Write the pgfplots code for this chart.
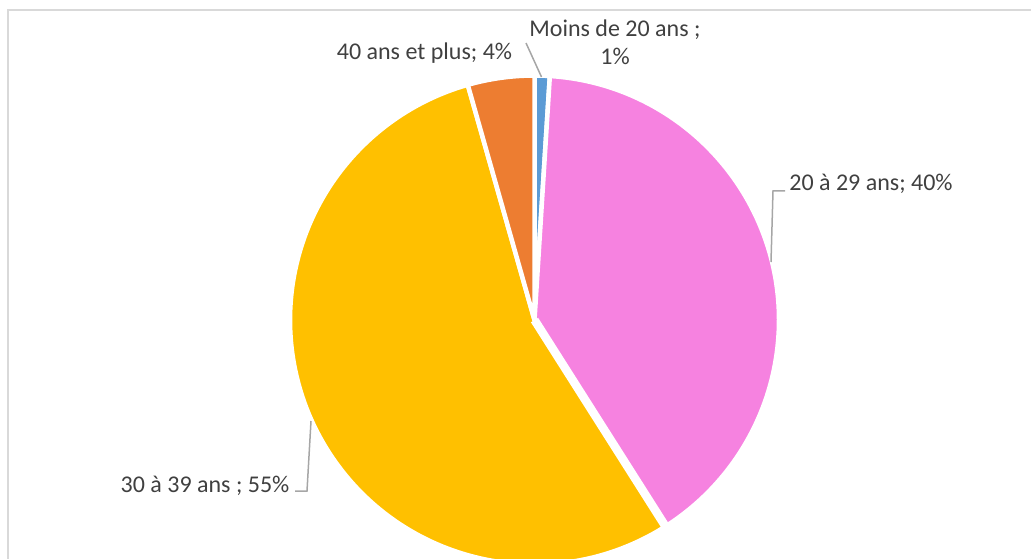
\documentclass[border=0pt]{standalone}
\usepackage{pgfplots}
\pgfplotsset{compat=1.18}
\usepackage{fontspec}
\setmainfont{Carlito}
\definecolor{cBlue}{HTML}{5B9BD5}
\definecolor{cPink}{HTML}{F682E0}
\definecolor{cGold}{HTML}{FFC000}
\definecolor{cOrange}{HTML}{ED7D31}
\definecolor{txtGray}{HTML}{404040}
\definecolor{leadGray}{HTML}{A6A6A6}
\definecolor{frameGray}{HTML}{D9D9D9}
% slice values (percent), clockwise from 12 o'clock:
% Moins de 20 ans 1.0 ; 20 a 29 ans 40.0 ; 30 a 39 ans 54.6 ; 40 ans et plus 4.4
\begin{document}
\begin{tikzpicture}
\begin{axis}[x=1pt,y=1pt,xmin=0,xmax=1031,ymin=0,ymax=558,hide axis,clip=true,
  scale only axis]
% frame
\draw[frameGray, line width=2pt] (axis cs:8,-20) -- (axis cs:8,548) -- (axis cs:1060,548);
% slices
\filldraw[fill=cBlue, draw=white, line width=4.5pt, line join=round]
  (axis cs:534.5,238) -- ++(90:244.5pt) arc[start angle=90, end angle={90-3.6*1.0}, radius=244.5pt] -- cycle;
\filldraw[fill=cPink, draw=white, line width=4.5pt, line join=round]
  (axis cs:534.5,238) -- ++({90-3.6*1.0}:244.5pt) arc[start angle={90-3.6*1.0}, end angle={90-3.6*(1.0+40.0)}, radius=244.5pt] -- cycle;
\filldraw[fill=cGold, draw=white, line width=4.5pt, line join=round]
  (axis cs:534.5,238) -- ++({90-3.6*41.0}:244.5pt) arc[start angle={90-3.6*41.0}, end angle={90-3.6*(41.0+54.6)}, radius=244.5pt] -- cycle;
\filldraw[fill=cOrange, draw=white, line width=4.5pt, line join=round]
  (axis cs:534.5,238) -- ++({90-3.6*95.6}:244.5pt) arc[start angle={90-3.6*95.6}, end angle={90-3.6*(95.6+4.4)}, radius=244.5pt] -- cycle;
% wider gap between 20-29 and 30-39
\draw[white, line width=8.5pt] (axis cs:534.5,238) -- ++({90-3.6*41.0}:250pt);
% leader lines
\draw[leadGray, line width=1.5pt] (axis cs:526,515) -- (axis cs:541.5,481);
\draw[leadGray, line width=1.5pt] (axis cs:785,367) -- (axis cs:773,367) -- (axis cs:771,296);
\draw[leadGray, line width=1.5pt] (axis cs:295,67) -- (axis cs:307,67) -- (axis cs:311,137);
% labels
\tikzset{lbl/.style={anchor=base, inner sep=0pt, text=txtGray, font=\fontsize{24}{29}\selectfont}}
\node[lbl] at (axis cs:615,521) {Moins de 20 ans ;};
\node[lbl] at (axis cs:615,493) {1\%};
\node[lbl] at (axis cs:424.5,498) {40 ans et plus; 4\%};
\node[lbl] at (axis cs:871,367) {20 à 29 ans; 40\%};
\node[lbl] at (axis cs:205,66) {30 à 39 ans ; 55\%};
\end{axis}
\pgfresetboundingbox
\path[use as bounding box] (current axis.south west) rectangle (current axis.north east);
\end{tikzpicture}
\end{document}
